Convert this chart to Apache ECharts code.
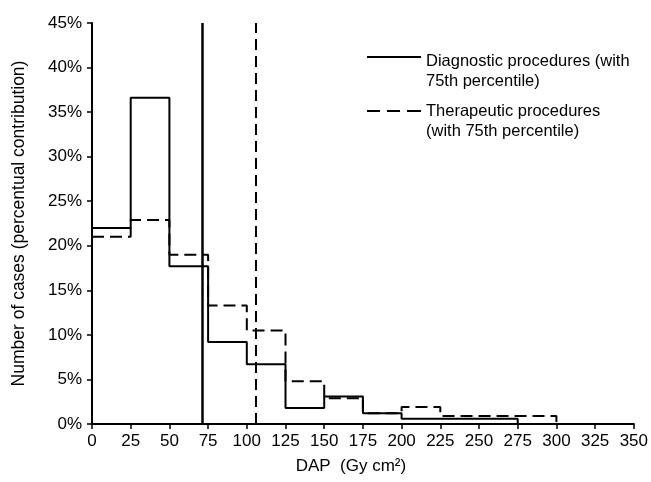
<!DOCTYPE html>
<html>
<head>
<meta charset="utf-8">
<script src="https://cdn.jsdelivr.net/npm/echarts@6/dist/echarts.min.js"></script>
<style>
html, body { margin: 0; background: #fff; }
#view { width: 651px; height: 482px; }
</style>
</head>
<body>
<div id="view"></div>
<script>
// DAP bins (Gy cm2) and share of cases per bin (%)
var binEdges = [0, 25, 50, 75, 100, 125, 150, 175, 200, 225, 250, 275, 300];
var diagnostic = [22.0, 36.6, 17.7, 9.2, 6.7, 1.8, 3.1, 1.2, 0.6, 0.6, 0.6];
var therapeutic = [21.0, 22.9, 19.0, 13.3, 10.5, 4.8, 2.9, 1.2, 1.9, 0.9, 0.9, 0.9];
// 75th percentiles
var diag75 = 71;
var ther75 = 106;
var seriesNames = ['Diagnostic procedures (with\n75th percentile)', 'Therapeutic procedures\n(with 75th percentile)'];

var font = '"Liberation Sans", Arial, sans-serif';

// histogram outline: each bin gives a flat piece, then drop to 0 at the end
function steps(vals) {
    var pts = [];
    vals.forEach(function (v, i) {
        pts.push([binEdges[i], v]);
        pts.push([binEdges[i + 1], v]);
    });
    pts.push([binEdges[vals.length], 0]);
    return pts;
}

var myChart = echarts.init(document.getElementById('view'));

var axisCommon = {
    axisLine: { lineStyle: { color: '#000', width: 2 } },
    axisTick: { length: 5, lineStyle: { color: '#000', width: 1.5 } },
    splitLine: { show: false },
    axisLabel: { color: '#000', fontSize: 17, fontFamily: font }
};

option = {
    animation: false,
    grid: { left: 92, right: 14, top: 23, bottom: 58 },
    legend: {
        orient: 'vertical',
        left: 362,
        top: 46,
        itemWidth: 54,
        itemHeight: 40,
        itemGap: 10,
        selectedMode: false,
        itemStyle: { color: '#000', borderWidth: 0 },
        textStyle: { color: '#000', fontSize: 16.5, lineHeight: 20, fontFamily: font },
        data: [
            { name: seriesNames[0], icon: 'path://M0,0h0.01v0.01h-0.01z M0,5h54v2h-54z M0,39.99h0.01v0.01h-0.01z' },
            { name: seriesNames[1], icon: 'path://M0,0h0.01v0.01h-0.01z M0,9h13v2h-13z M20,9h13v2h-13z M40,9h14v2h-14z M0,39.99h0.01v0.01h-0.01z' }
        ]
    },
    xAxis: Object.assign({}, axisCommon, {
        type: 'value',
        min: 0,
        max: 350,
        interval: 25,
        name: 'DAP  (Gy cm\u00b2)',
        nameLocation: 'middle',
        nameGap: 34,
        nameTextStyle: { color: '#000', fontSize: 17, fontFamily: font, padding: [0, 24, 0, 0] },
        axisLabel: Object.assign({}, axisCommon.axisLabel, { margin: 9 })
    }),
    yAxis: Object.assign({}, axisCommon, {
        type: 'value',
        min: 0,
        max: 45,
        interval: 5,
        name: 'Number of cases (percentual contribution)',
        nameLocation: 'middle',
        nameGap: 64,
        nameTextStyle: { color: '#000', fontSize: 17.5, fontFamily: font },
        axisLabel: Object.assign({}, axisCommon.axisLabel, { formatter: '{value}%', margin: 10 })
    }),
    series: [
        {
            name: seriesNames[0],
            type: 'line',
            showSymbol: false,
            symbol: 'none',
            data: steps(diagnostic),
            lineStyle: { color: '#000', width: 2 },
            itemStyle: { color: '#000' },
            markLine: {
                silent: true,
                symbol: ['none', 'none'],
                label: { show: false },
                lineStyle: { color: '#000', width: 2.5, type: 'solid' },
                data: [{ xAxis: diag75 }]
            }
        },
        {
            name: seriesNames[1],
            type: 'line',
            showSymbol: false,
            symbol: 'none',
            data: steps(therapeutic),
            lineStyle: { color: '#000', width: 2, type: [12, 6] },
            itemStyle: { color: '#000' },
            markLine: {
                silent: true,
                symbol: ['none', 'none'],
                label: { show: false },
                lineStyle: { color: '#000', width: 2, type: [11, 6] },
                data: [{ xAxis: ther75 }]
            }
        }
    ]
};

myChart.setOption(option);
</script>
</body>
</html>
